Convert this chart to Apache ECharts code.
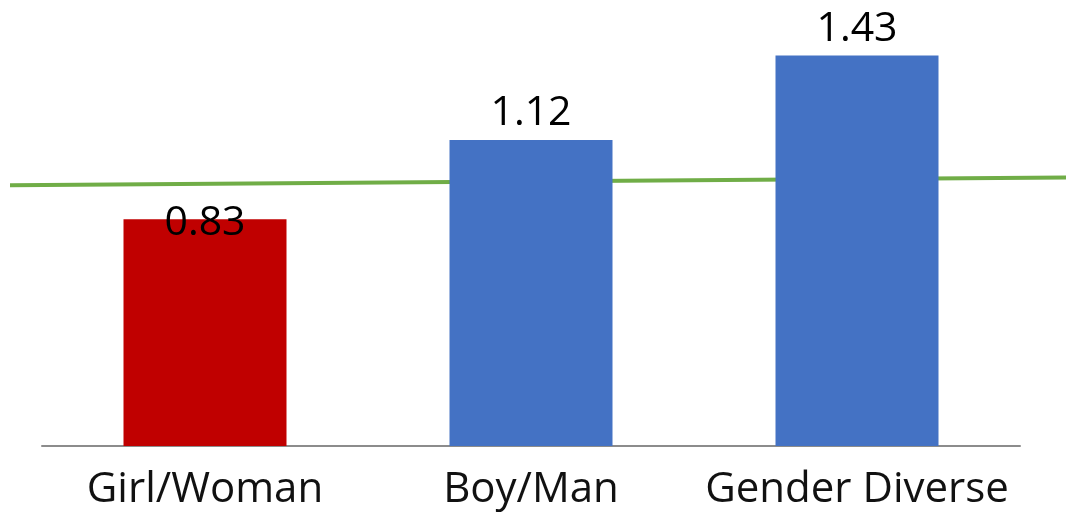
<!DOCTYPE html>
<html><head><meta charset="utf-8">
<script src="https://cdn.jsdelivr.net/npm/echarts@6/dist/echarts.min.js"></script>
<style>html,body{margin:0;padding:0;background:#fff}#c{width:1066px;height:514px}</style>
</head><body><div id="c"></div>
<script>
const categories = ['Girl/Woman', 'Boy/Man', 'Gender Diverse'];
const values = [0.83, 1.12, 1.43];
const barColors = ['#C00000', '#4472C4', '#4472C4'];
const refLineX = [0, 1];
const refLineY = [0.955, 0.983];

const chart = echarts.init(document.getElementById('c'));
const barData = values.map((v, i) => ({
  value: v,
  itemStyle: { color: barColors[i] },
  label: i === 0 ? { position: 'insideTop', distance: -16 } : {}
}));
chart.setOption({
  animation: false,
  grid: [
    { left: 42, right: 46, top: 9, bottom: 68 },
    { left: 10, right: 0, top: 9, bottom: 68 }
  ],
  xAxis: [
    { type: 'category', data: categories, gridIndex: 0,
      axisLine: { lineStyle: { color: '#8c8c8c', width: 2 } },
      axisTick: { show: false },
      axisLabel: { color: '#111', fontSize: 42, fontFamily: 'Open Sans', margin: 23, interval: 0, hideOverlap: false } },
    { type: 'value', gridIndex: 1, min: 0, max: 1, show: false }
  ],
  yAxis: [
    { type: 'value', gridIndex: 0, min: 0, max: 1.6, show: false, splitLine: { show: false } },
    { type: 'value', gridIndex: 1, min: 0, max: 1.6, show: false, splitLine: { show: false } }
  ],
  series: [
    { type: 'bar', xAxisIndex: 0, yAxisIndex: 0, data: barData, barWidth: '50%', z: 2,
      label: { show: true, position: 'top', distance: 6, color: '#000', fontSize: 41, fontFamily: 'Open Sans' } },
    { type: 'line', xAxisIndex: 1, yAxisIndex: 1, data: refLineX.map((x, i) => [x, refLineY[i]]),
      symbol: 'none', lineStyle: { color: '#70AD47', width: 4 }, z: 1 }
  ]
});
</script></body></html>
